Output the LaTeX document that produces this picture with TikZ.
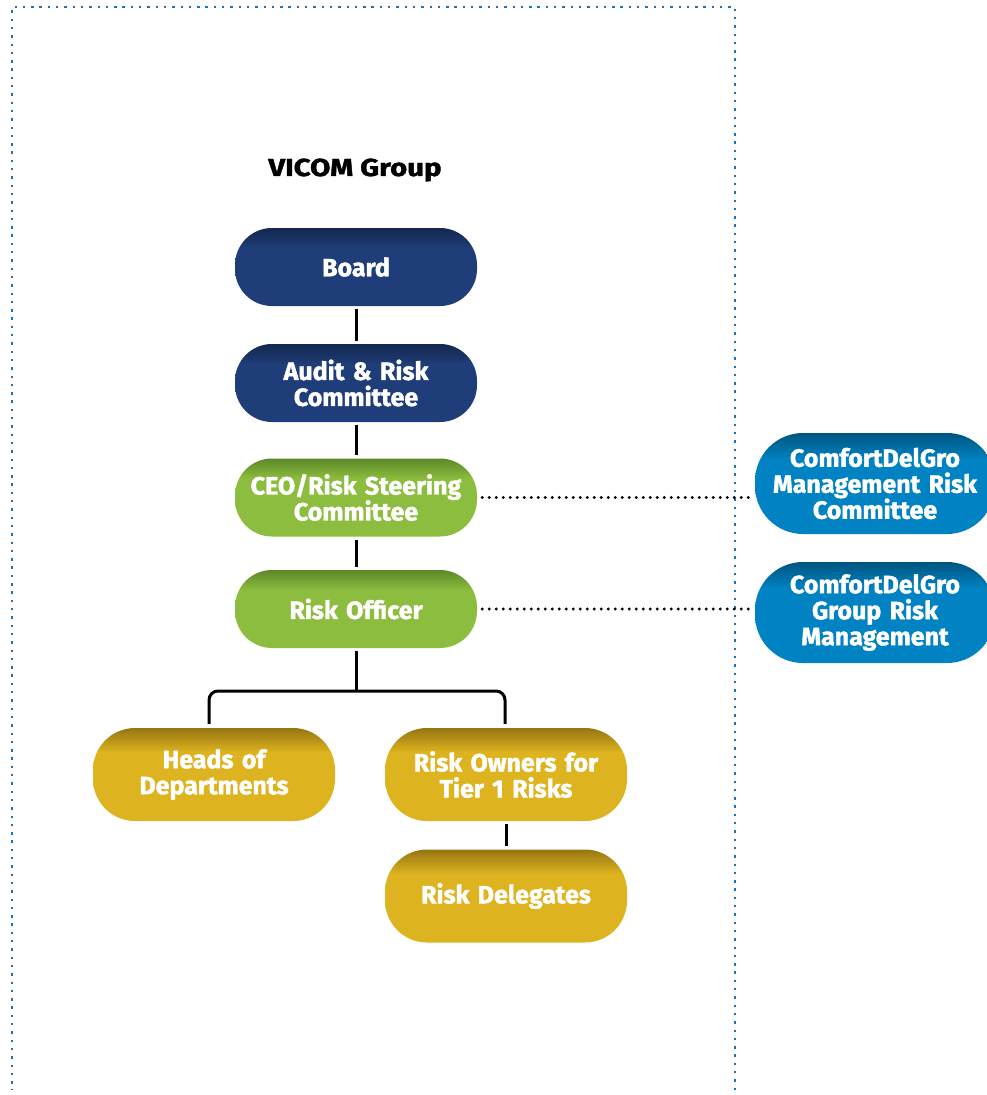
\documentclass[tikz,border=0pt]{standalone}
\usepackage{fontspec}
\setmainfont[BoldFeatures={FakeBold=1.6}]{Fira Sans}
\newfontfamily\titlefont[BoldFeatures={FakeBold=1.6,FakeStretch=1.2}]{Fira Sans}
\definecolor{navymain}{HTML}{1F3D78}
\definecolor{navydark}{HTML}{13284F}
\definecolor{greenmain}{HTML}{8DBD3E}
\definecolor{greendark}{HTML}{5C8728}
\definecolor{yellowmain}{HTML}{DDB31F}
\definecolor{yellowdark}{HTML}{967512}
\definecolor{bluemain}{HTML}{0082C3}
\definecolor{bluedark}{HTML}{00557F}
\definecolor{borderblue}{HTML}{1872B8}
\pgfdeclareverticalshading{navyshade}{100bp}{color(0bp)=(navymain); color(25bp)=(navymain); color(62bp)=(navymain); color(75bp)=(navydark); color(100bp)=(navydark)}
\pgfdeclareverticalshading{greenshade}{100bp}{color(0bp)=(greenmain); color(25bp)=(greenmain); color(62bp)=(greenmain); color(75bp)=(greendark); color(100bp)=(greendark)}
\pgfdeclareverticalshading{yellowshade}{100bp}{color(0bp)=(yellowmain); color(25bp)=(yellowmain); color(62bp)=(yellowmain); color(75bp)=(yellowdark); color(100bp)=(yellowdark)}
\pgfdeclareverticalshading{blueshade}{100bp}{color(0bp)=(bluemain); color(25bp)=(bluemain); color(62bp)=(bluemain); color(75bp)=(bluedark); color(100bp)=(bluedark)}
\begin{document}
\begin{tikzpicture}[x=1pt,y=-1pt,
  box/.style={rounded corners=37pt, minimum width=242pt, minimum height=78pt,
    text width=238pt, align=center, inner sep=0pt, text=white,
    font=\fontsize{25}{26}\selectfont\bfseries},
  navybox/.style={box, shading=navyshade},
  greenbox/.style={box, shading=greenshade},
  yellowbox/.style={box, shading=yellowshade, minimum height=93pt, rounded corners=42pt},
  bluebox/.style={box, shading=blueshade, minimum height=101pt, minimum width=240pt, rounded corners=48pt},
  conn/.style={draw=black, line width=3pt, shorten <=3pt, shorten >=3pt},
  dotline/.style={draw=black, line width=3.2pt, line cap=round, dash pattern=on 0pt off 7pt, shorten <=5pt, shorten >=2pt},
  border/.style={draw=borderblue, line width=2.4pt, dash pattern=on 2.4pt off 5.9pt}
]
\clip (0,0) rectangle (987,1095);
\draw[border] (735,1090) -- (735,7) -- (12,7) -- (12,1090);

\node[font=\titlefont\fontsize{24.5}{26}\selectfont\bfseries, text=black] (title) at (355,170) {VICOM Group};

\node[navybox] (board) at (356,267) {Board};
\node[navybox] (arc) at (356,383) {Audit \& Risk\\Committee};
\node[greenbox] (ceo) at (356,497.5) {CEO/Risk Steering\\Committee};
\node[greenbox] (ro) at (356,609) {Risk Officer};
\node[yellowbox] (hod) at (214,774.5) {Heads of\\Departments};
\node[yellowbox] (rot) at (506,774.5) {Risk Owners for\\Tier 1 Risks};
\node[yellowbox] (rd) at (506,896) {Risk Delegates};
\node[bluebox] (mrc) at (875,483.5) {ComfortDelGro\\Management Risk\\Committee};
\node[bluebox] (grm) at (875,612.5) {ComfortDelGro\\Group Risk\\Management};

\coordinate (split) at (356,691);
\draw[conn] (board) -- (arc);
\draw[conn] (arc) -- (ceo);
\draw[conn] (ceo) -- (ro);
\draw[conn, shorten >=0pt] (ro.south) -- (split);
\draw[conn, rounded corners=9pt, shorten <=4pt, shorten >=4pt] ([xshift=-5pt]hod.north) |- (split) -| ([xshift=-1pt]rot.north);
\draw[conn] (rot) -- (rd);
\draw[dotline] (ceo.east) -- (ceo.east -| mrc.west);
\draw[dotline] (ro.east) -- (ro.east -| grm.west);
\end{tikzpicture}
\end{document}
